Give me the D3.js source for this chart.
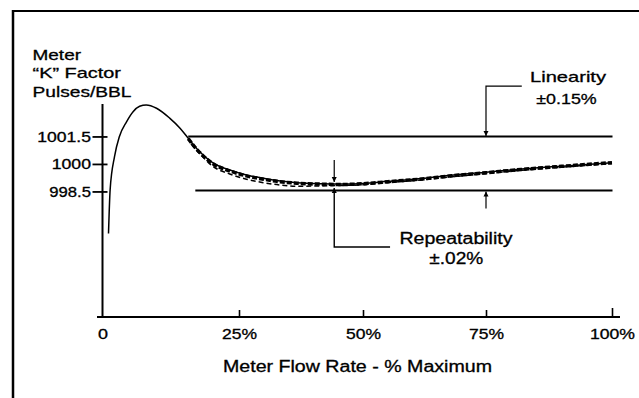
<!DOCTYPE html>
<html>
<head>
<meta charset="utf-8">
<script src="https://cdn.jsdelivr.net/npm/d3@7"></script>
<style>
  html, body { margin: 0; padding: 0; background: #fff; }
  svg { display: block; }
  text { font-family: "Liberation Sans", Arial, Helvetica, sans-serif; fill: #000; stroke: #000; stroke-width: 0.3px; }
</style>
</head>
<body>
<svg id="chart" width="639" height="398"></svg>
<script>
// ---------------- data ----------------
const xTickValues = [0, 25, 50, 75, 100];
const xTickLabels = ["0", "25%", "50%", "75%", "100%"];
const yTickValues = [998.5, 1000, 1001.5];
const yTickLabels = ["998.5", "1000", "1001.5"];

// main (solid) K-factor curve
const flowMain = [1.1, 1.4, 2.2, 3.1, 4.4, 5.6, 6.8, 8.0, 9.9, 12.3, 14.2, 15.7, 17.2, 20.3, 23.3, 26.5, 29.9, 33.3, 36.7, 41.3, 46, 50, 55, 62, 68, 75, 82, 90, 100];
const kMain    = [996.2, 998.6, 1000.4, 1001.5, 1002.3, 1002.85, 1003.15, 1003.22, 1003.04, 1002.5, 1001.95, 1001.4, 1000.86, 1000.05, 999.67, 999.4, 999.22, 999.07, 998.98, 998.92, 998.9, 998.93, 999.05, 999.2, 999.38, 999.55, 999.72, 999.88, 1000.07];

// repeat run 2 (heavy dashed)
const flowRun2 = [15.7, 17.2, 20.3, 23.3, 26.5, 29.9, 33.3, 36.7, 41.3, 46, 50, 55, 62, 68, 75, 82, 90, 100];
const kRun2    = [1001.38, 1000.82, 1000.0, 999.62, 999.35, 999.17, 999.03, 998.95, 998.9, 998.88, 998.92, 999.03, 999.18, 999.35, 999.52, 999.70, 999.87, 1000.07];

// repeat run 3 (light dashed)
const flowRun3 = [16.2, 18, 20.3, 23.3, 26.5, 29.9, 33.3, 36.7, 41.3, 46, 50, 55, 62, 68, 75, 82, 90, 100];
const kRun3    = [1001.1, 1000.5, 999.85, 999.45, 999.17, 998.98, 998.85, 998.78, 998.8, 998.83, 998.86, 998.98, 999.13, 999.3, 999.47, 999.65, 999.82, 1000.02];

// linearity band limits (K factor) and their flow extents
const linearityLimits = [1001.5, 998.55];
const linearityStart  = [15.7, 17.0];
const linearityEnd    = 100.1;
const linearityArrowFlow = 75;
const repeatArrowFlow = 44.2;

// ---------------- layout ----------------
const svg = d3.select("#chart");
const x = d3.scaleLinear().domain(xTickValues).range([102.5, 239, 363, 486, 612]);
const y = d3.scaleLinear().domain([991.65, 1003.27]).range([317, 104]);

function fitText(sel, width) {
  sel.attr("textLength", width).attr("lengthAdjust", "spacingAndGlyphs");
}
function label(str, px, py, size, width, anchor) {
  const t = svg.append("text")
    .attr("x", px).attr("y", py)
    .attr("font-size", size)
    .attr("text-anchor", anchor || "start")
    .text(str);
  fitText(t, width);
  return t;
}

// frame
svg.append("line").attr("x1", 12).attr("x2", 639).attr("y1", 11).attr("y2", 11)
  .attr("stroke", "#000").attr("stroke-width", 2);
svg.append("line").attr("x1", 13).attr("x2", 13).attr("y1", 10).attr("y2", 398)
  .attr("stroke", "#000").attr("stroke-width", 2.5);

// arrow marker
svg.append("defs").append("marker")
  .attr("id", "arrow").attr("viewBox", "0 0 10 10")
  .attr("refX", 10).attr("refY", 5)
  .attr("markerWidth", 5).attr("markerHeight", 7)
  .attr("markerUnits", "userSpaceOnUse")
  .attr("orient", "auto")
  .append("path").attr("d", "M0,0 L10,5 L0,10 Z").attr("fill", "#000");

// y axis
const yAxis = svg.append("g").attr("transform", `translate(${x(0)},0)`)
  .call(d3.axisLeft(y).tickValues(yTickValues).tickFormat((d, i) => yTickLabels[i]).tickSizeOuter(0));
yAxis.select(".domain").remove();
yAxis.selectAll(".tick line").attr("x1", -10).attr("x2", 5).attr("stroke-width", 1.8);
const yLabelWidths = [41.7, 39.3, 53.7];
yAxis.selectAll(".tick text")
  .attr("x", -11.5).attr("dy", "0.36em")
  .attr("font-size", 14).attr("font-family", null)
  .each(function (d, i) { fitText(d3.select(this), yLabelWidths[i]); });
svg.append("line").attr("x1", x(0)).attr("x2", x(0)).attr("y1", y(1003.27)).attr("y2", y(991.65) + 1)
  .attr("stroke", "#000").attr("stroke-width", 2);

// x axis
const xAxis = svg.append("g").attr("transform", `translate(0,${y(991.65)})`)
  .call(d3.axisBottom(x).tickValues(xTickValues).tickFormat((d, i) => xTickLabels[i]).tickSizeOuter(0));
xAxis.select(".domain").remove();
xAxis.selectAll(".tick line")
  .attr("y1", d => d === 100 ? 1 : 0)
  .attr("y2", d => d === 0 ? 0 : (d === 100 ? -9 : -7))
  .attr("stroke-width", 1.6);
const xLabelWidths = [10, 35, 35, 35, 45];
xAxis.selectAll(".tick text")
  .attr("y", 22).attr("dy", 0)
  .attr("font-size", 14).attr("font-family", null)
  .each(function (d, i) { fitText(d3.select(this), xLabelWidths[i]); });
svg.append("line").attr("x1", 97).attr("x2", 620).attr("y1", y(991.65)).attr("y2", y(991.65))
  .attr("stroke", "#000").attr("stroke-width", 2);

// titles
label("Meter", 32.5, 59.5, 15, 48.5);
label("\u201CK\u201D Factor", 32.5, 77.5, 15, 88.5);
label("Pulses/BBL", 32.5, 96.5, 15, 99);
label("Meter Flow Rate - % Maximum", 357.5, 371.5, 16, 269, "middle");

// linearity limit lines
linearityLimits.forEach((k, i) => {
  svg.append("line")
    .attr("x1", x(linearityStart[i])).attr("x2", x(linearityEnd))
    .attr("y1", y(k)).attr("y2", y(k))
    .attr("stroke", "#000").attr("stroke-width", 2);
});

// curves
const line = d3.line().x(d => x(d[0])).y(d => y(d[1])).curve(d3.curveMonotoneX);
svg.append("path").datum(d3.zip(flowRun3, kRun3)).attr("d", line)
  .attr("fill", "none").attr("stroke", "#000").attr("stroke-width", 1.5)
  .attr("stroke-dasharray", "5,3");
svg.append("path").datum(d3.zip(flowRun2, kRun2)).attr("d", line)
  .attr("fill", "none").attr("stroke", "#000").attr("stroke-width", 3.5)
  .attr("stroke-dasharray", "5,2");
svg.append("path").datum(d3.zip(flowMain, kMain)).attr("d", line)
  .attr("fill", "none").attr("stroke", "#000").attr("stroke-width", 1.5);

// linearity annotation
const lx = x(linearityArrowFlow);
svg.append("path")
  .attr("d", `M${x(82.1)},${y(1004.25)} H${lx} V${y(linearityLimits[0]) - 0.5}`)
  .attr("fill", "none").attr("stroke", "#000").attr("stroke-width", 1.2)
  .attr("marker-end", "url(#arrow)");
svg.append("line")
  .attr("x1", lx).attr("x2", lx).attr("y1", y(linearityLimits[1]) + 18).attr("y2", y(linearityLimits[1]) + 1)
  .attr("stroke", "#000").attr("stroke-width", 1.2).attr("marker-end", "url(#arrow)");
label("Linearity", 568, 82, 15, 76, "middle");
label("\u00B10.15%", 566.5, 103.5, 15, 60.5, "middle");

// repeatability annotation
const rx = x(repeatArrowFlow);
svg.append("line").attr("x1", rx).attr("x2", rx).attr("y1", 160).attr("y2", y(kRun2[8]) - 2)
  .attr("stroke", "#000").attr("stroke-width", 1.2).attr("marker-end", "url(#arrow)");
svg.append("path")
  .attr("d", `M${x(55.5)},${y(995.47)} H${rx} V${y(kRun3[8]) + 2}`)
  .attr("fill", "none").attr("stroke", "#000").attr("stroke-width", 1.4)
  .attr("marker-end", "url(#arrow)");
label("Repeatability", 456, 243.5, 16, 113, "middle");
label("\u00B1.02%", 456.3, 264, 16, 54, "middle");
</script>
</body>
</html>
